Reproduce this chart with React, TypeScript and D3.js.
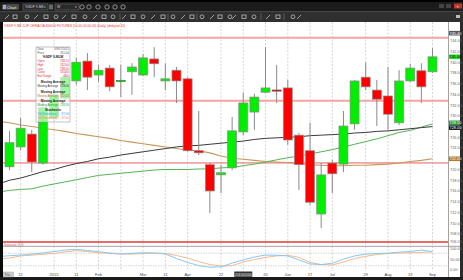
import React from "react";
import * as d3 from "d3";

// ---- data (weekly candles) ----
const opens = [720.5, 724.2, 726.6, 721.2, 729.6, 733.3, 736.5, 740.2, 737.6, 738.9, 736.5, 738.2, 737.6, 740.6, 736.5, 738.5, 736.9, 723.5, 720.9, 719.0, 720.3, 727.0, 730.7, 734.4, 734.8, 735.2, 726.4, 723.5, 711.7, 721.2, 721.0, 728.5, 737.2, 734.8, 733.7, 728.7, 736.5, 738.4, 738.2];
const highs = [727.2, 729.6, 727.4, 733.0, 734.4, 738.5, 740.8, 741.7, 739.5, 739.5, 739.5, 739.8, 741.5, 742.8, 739.8, 739.1, 737.2, 730.9, 721.2, 720.9, 729.8, 734.3, 734.1, 742.8, 739.5, 736.7, 726.8, 728.7, 721.2, 721.8, 730.9, 736.7, 740.0, 736.7, 739.1, 738.5, 739.7, 739.8, 742.6];
const lows = [719.9, 723.6, 719.5, 720.9, 728.9, 733.0, 735.8, 734.8, 736.3, 734.6, 733.5, 733.9, 737.4, 737.2, 734.8, 732.4, 723.3, 722.7, 711.9, 715.6, 719.9, 726.4, 727.4, 734.3, 732.4, 724.6, 716.2, 713.4, 709.1, 715.6, 719.5, 727.4, 734.8, 728.1, 727.4, 728.3, 736.3, 732.4, 738.0];
const closes = [725.0, 727.7, 721.4, 731.5, 733.9, 737.2, 740.0, 737.2, 738.5, 735.4, 736.6, 739.1, 740.8, 739.7, 736.9, 736.5, 723.5, 723.1, 716.0, 719.4, 727.2, 732.4, 733.5, 735.2, 734.7, 725.5, 720.9, 713.9, 719.0, 719.2, 728.1, 736.5, 735.4, 733.1, 730.3, 736.5, 738.9, 735.4, 741.0];

// moving averages / stochastic start one bar before the first visible candle
const maBlack = [717.3, 718.0, 718.4, 719.0, 719.6, 720.0, 720.6, 721.1, 721.5, 722.0, 722.3, 722.7, 723.0, 723.3, 723.6, 723.9, 724.2, 724.4, 724.5, 724.7, 724.9, 725.1, 725.3, 725.6, 725.8, 725.9, 726.0, 726.1, 726.3, 726.4, 726.5, 726.6, 726.8, 726.9, 727.1, 727.2, 727.4, 727.6, 727.8, 728.0];
const maGreen = [715.8, 716.1, 716.3, 716.4, 716.9, 717.3, 717.7, 718.1, 718.5, 718.9, 719.1, 719.3, 719.5, 719.7, 719.9, 720.0, 720.0, 720.0, 720.1, 720.1, 720.3, 720.4, 720.7, 721.0, 721.4, 721.8, 722.2, 722.5, 722.9, 723.3, 723.7, 724.2, 724.7, 725.2, 725.7, 726.3, 726.9, 727.3, 727.9, 728.5];
const maTan = [729.0, 728.7, 728.3, 728.0, 727.7, 727.4, 727.1, 726.7, 726.4, 726.1, 725.8, 725.4, 725.1, 724.8, 724.5, 724.2, 723.9, 723.6, 723.5, 723.1, 722.5, 722.1, 721.9, 721.7, 721.5, 721.4, 721.3, 721.1, 720.9, 720.8, 720.7, 720.7, 720.8, 720.8, 720.9, 721.0, 721.2, 721.5, 721.7, 722.0];
const stochK = [64, 68, 71, 76, 81, 88, 95, 98, 93, 87, 81, 76, 79, 82, 81, 76, 55, 36, 21, 13, 15, 33, 48, 62, 71, 70, 67, 48, 29, 26, 32, 52, 67, 76, 78, 80, 85, 88, 95, 87];
const stochD = [52, 57, 67, 71, 75, 79, 86, 92, 88, 82, 79, 76, 76, 78, 80, 79, 69, 57, 40, 26, 19, 21, 38, 50, 60, 67, 70, 60, 36, 26, 24, 38, 55, 65, 74, 79, 81, 82, 83, 87];

const priceTicks = d3.range(744, 707, -2);
const stochTicks = [100, 50, 0];
const stochLevels = [80, 20];
const gridIdx = [1, 4, 6, 8, 10, 12, 14, 16, 19, 21, 23, 25, 27, 29, 32, 34, 36, 38];
const tickIdx = [1, 4, 6, 8, 12, 14, 16, 19, 23, 25, 27, 29, 32, 34, 36, 38];
const tickLabels = ["12", "2015", "11", "Feb", "Mar", "11", "Apr", "22", "20", "Jun", "17", "Jul", "29", "Aug", "19", "Sep"];
const cursorIdx = 21;
const cursorLabel = "2015/05/04";
const pinkLevels = [744.56, 732.83];
const redLevels = [721.22];
const bottomRedLevel = 706.5;
const topMarker = 745.4;

const FONT = "'Liberation Sans', Arial, sans-serif";

export default function App() {
  const x = d3.scaleLinear().domain([0, 38]).range([9.5, 432.5]);
  const y = d3.scaleLinear().domain([744, 708]).range([40.7, 233.9]);
  const ys = d3.scaleLinear().domain([0, 100]).range([270, 249]);
  const maIdx = d3.range(-1, 39);
  const mkLine = (vals: number[], sc: (v: number) => number) =>
    d3.line<number>().x((_, i) => x(maIdx[i])).y((v) => sc(v))(vals) || "";

  const plotL = 3, plotR = 448, plotT = 22, plotB = 242;
  const bw = 9;
  const fmt = d3.format(".2f");

  const toolIcons1 = [7, 15, 27, 36, 46, 56, 64, 74, 85, 95, 104, 113, 124, 133, 143, 153, 163, 173, 183, 192, 202, 212, 220, 230, 234, 244, 254, 268, 278, 293, 299];
  const toolSeps = [120, 168, 197, 261, 284];
  const topIcons = [82, 89, 98, 107, 115, 123];

  const lastClose = closes[closes.length - 1];
  const boxesRaw = [
    { v: topMarker, fill: "#5a5a5a", text: "#fff" },
    { v: lastClose, fill: "#22e022", text: "#000" },
    { v: maGreen[maGreen.length - 1], fill: "#1f9a2a", text: "#fff" },
    { v: maBlack[maBlack.length - 1], fill: "#111", text: "#fff" },
    { v: maTan[maTan.length - 1], fill: "#b47a22", text: "#fff" },
  ];
  // resolve label collisions by pushing boxes apart
  const sorted = boxesRaw.map((b) => ({ ...b, cy: y(b.v) })).sort((a, b) => a.cy - b.cy);
  for (let k = 1; k < sorted.length; k++) {
    const gap = sorted[k].cy - sorted[k - 1].cy;
    if (gap < 4.8) {
      const d = (4.8 - gap) / 2;
      sorted[k - 1].cy -= d;
      sorted[k].cy += d;
    }
  }
  const boxes = sorted;
  const visibleTicks = priceTicks.filter((p) => boxes.every((b) => Math.abs(y(p) - b.cy) > 4.6));

  const infoRows: { l: string; r: string; c: string; bold?: boolean }[] = [
    { l: "Date", r: "09/07/2015", c: "#555" },
    { l: "Price", r: "741.00", c: "#555" },
    { l: "%SDF 9-MLW", r: "", c: "#222", bold: true },
    { l: "Open", r: fmt(opens[38]), c: "#e03030" },
    { l: "High", r: fmt(highs[38]), c: "#e03030" },
    { l: "Low", r: fmt(lows[38]), c: "#e03030" },
    { l: "Close", r: fmt(closes[38]), c: "#e03030" },
    { l: "Bar Range", r: fmt(highs[38] - lows[38]), c: "#e03030" },
    { l: "Moving Average", r: "", c: "#222", bold: true },
    { l: "Moving Average", r: fmt(maBlack[39]), c: "#333" },
    { l: "Moving Average", r: "", c: "#222", bold: true },
    { l: "Moving Average", r: fmt(maTan[39]), c: "#b47a22" },
    { l: "Moving Average", r: "", c: "#222", bold: true },
    { l: "Moving Average", r: fmt(maGreen[39]), c: "#2a9a2a" },
    { l: "Stochastic", r: "", c: "#222", bold: true },
    { l: "%K(Smoothed)", r: fmt(stochK[39]), c: "#3a9ee0" },
    { l: "%D(Smoothed)", r: fmt(stochD[39]), c: "#f08a40" },
  ];
  const infoY = [50, 53.5, 58, 62.3, 66, 69.6, 73.2, 77, 83, 87, 92.7, 97, 102, 106, 111, 115, 119];

  return (
    <svg width={463} height={280} style={{ position: "fixed", left: 0, top: 0, fontFamily: FONT }}>
      <defs>
        <clipPath id="plot">
          <rect x={plotL} y={plotT} width={plotR - plotL} height={plotB - plotT} />
        </clipPath>
        <clipPath id="stoch">
          <rect x={plotL} y={247} width={plotR - plotL} height={24} />
        </clipPath>
      </defs>
      <rect x={0} y={0} width={463} height={280} fill="#fff" />

      {/* top title bar */}
      <rect x={0} y={0} width={463} height={11} fill="#1c1c1c" />
      <rect x={0} y={0} width={463} height={2} fill="#000" />
      <rect x={2} y={4} width={17} height={6} rx={1} fill="#4a4a4a" />
      <rect x={3} y={5} width={3} height={4} fill="#9ad" />
      <text x={7} y={8.6} fontSize={3.8} fill="#eee">Chart</text>
      <rect x={23} y={4} width={25} height={6} fill="#2a2a2a" stroke="#777" strokeWidth={0.5} />
      <text x={25} y={8.4} fontSize={3.4} fill="#ddd">%SDF 9-M8</text>
      <text x={44} y={8.4} fontSize={3.4} fill="#ddd">▾</text>
      <rect x={49} y={4.5} width={4} height={5} fill="#666" />
      <rect x={55} y={4} width={24} height={6} fill="#2a2a2a" stroke="#777" strokeWidth={0.5} />
      <text x={57} y={8.4} fontSize={3.4} fill="#ddd">W</text>
      <text x={75} y={8.4} fontSize={3.4} fill="#ddd">▾</text>
      {topIcons.map((ix, i) => (
        <circle key={i} cx={ix} cy={7} r={2.2} fill="none" stroke="#bbb" strokeWidth={0.7} />
      ))}
      <rect x={439} y={4} width={5} height={4} fill="#444" />
      <rect x={446} y={4} width={5} height={4} fill="#444" />
      <rect x={454} y={3.5} width={8} height={5} fill="#c0392b" />
      <text x={456.5} y={7.6} fontSize={4} fill="#fff">×</text>

      {/* toolbar */}
      <rect x={0} y={11} width={463} height={11} fill="#2f2f2f" />
      <line x1={0} y1={11.5} x2={463} y2={11.5} stroke="#555" strokeWidth={0.6} />
      {toolIcons1.map((ix, i) => (
        <g key={i} stroke="#cfcfcf" strokeWidth={0.7} fill="none">
          {i % 3 === 0 ? (
            <line x1={ix - 2} y1={19} x2={ix + 2} y2={15} />
          ) : i % 3 === 1 ? (
            <rect x={ix - 2} y={15} width={4} height={3.5} />
          ) : (
            <circle cx={ix} cy={16.8} r={1.9} />
          )}
        </g>
      ))}
      {toolSeps.map((sx, i) => (
        <line key={i} x1={sx} y1={13.5} x2={sx} y2={20} stroke="#888" strokeWidth={0.5} />
      ))}
      <rect x={456} y={15} width={4} height={3} fill="#bbb" />

      {/* borders */}
      <rect x={0} y={22} width={3} height={258} fill="#0a0a0a" />
      <rect x={460} y={22} width={3} height={258} fill="#2a2a2a" />
      <rect x={0} y={277} width={463} height={3} fill="#1a1a1a" />

      {/* vertical grid */}
      {gridIdx.map((gi) => (
        <line key={gi} x1={x(gi)} x2={x(gi)} y1={plotT} y2={271} stroke="#b8b8b8" strokeWidth={0.6} strokeDasharray="2,1.5" />
      ))}

      {/* header text */}
      <text x={4} y={27.3} fontSize={3.6} fill="#e53935" textLength={121} lengthAdjust="spacingAndGlyphs">
        %SDF 9-M8 .DJF CHINA DA 400000 FUTURES (10.00.00.00.00) (Daily) (delayed 15)
      </text>

      {/* horizontal levels */}
      {pinkLevels.map((p, i) => (
        <line key={i} x1={plotL} x2={plotR} y1={y(p)} y2={y(p)} stroke="#f5a3a3" strokeWidth={2} />
      ))}
      {redLevels.map((p, i) => (
        <line key={i} x1={plotL} x2={plotR} y1={y(p)} y2={y(p)} stroke="#e56060" strokeWidth={1} />
      ))}

      <g clipPath="url(#plot)">
        {/* moving averages */}
        <path d={mkLine(maTan, y)} fill="none" stroke="#c9965a" strokeWidth={1.1} />
        <path d={mkLine(maGreen, y)} fill="none" stroke="#52b552" strokeWidth={1} />
        <path d={mkLine(maBlack, y)} fill="none" stroke="#3a3a3a" strokeWidth={1} />

        {/* candles */}
        {opens.map((o, i) => {
          const c = closes[i];
          const up = c >= o;
          const top = y(Math.max(o, c));
          const bot = y(Math.min(o, c));
          const h = Math.max(bot - top, 1);
          return (
            <g key={i}>
              <line x1={x(i)} x2={x(i)} y1={y(highs[i])} y2={y(lows[i])} stroke="#8a8a8a" strokeWidth={1} />
              <rect
                x={x(i) - bw / 2}
                y={top}
                width={bw}
                height={h}
                fill={up ? "#00ee00" : "#ff0000"}
                stroke={h <= 1.5 ? (up ? "#2b8a2b" : "#8a2b2b") : "#8c8c8c"}
                strokeWidth={0.7}
              />
            </g>
          );
        })}
      </g>

      {/* info box */}
      <rect x={36} y={47} width={34} height={75} fill="#ffffff" fillOpacity={0.62} stroke="#9a9a9a" strokeWidth={0.6} />
      {infoRows.map((r, i) =>
        r.bold ? (
          <text key={i} x={53} y={infoY[i]} fontSize={3.2} fontWeight="bold" fill={r.c} textAnchor="middle">
            {r.l}
          </text>
        ) : (
          <g key={i}>
            <text x={37.5} y={infoY[i]} fontSize={2.9} fill={r.c}>{r.l}</text>
            <text x={68.8} y={infoY[i]} fontSize={2.9} fill={r.c} textAnchor="end">{r.r}</text>
          </g>
        )
      )}

      {/* bottom red line + stochastic label */}
      <line x1={plotL} x2={plotR} y1={y(bottomRedLevel)} y2={y(bottomRedLevel)} stroke="#e53935" strokeWidth={1.4} />
      <text x={4} y={245.6} fontSize={2.8} fill="#c05050">Stochastic (9,3)</text>
      <line x1={plotL} x2={460} y1={246.3} y2={246.3} stroke="#8a8a8a" strokeWidth={0.8} />

      {/* stochastic pane */}
      {stochLevels.map((lv) => (
        <line key={lv} x1={plotL} x2={plotR} y1={ys(lv)} y2={ys(lv)} stroke="#aaa" strokeWidth={0.5} strokeDasharray="1.5,1" />
      ))}
      <g clipPath="url(#stoch)">
        <path d={mkLine(stochD, ys)} fill="none" stroke="#f7b98c" strokeWidth={1} />
        <path d={mkLine(stochK, ys)} fill="none" stroke="#86c9f2" strokeWidth={1} />
      </g>

      {/* right axis */}
      <line x1={448.5} x2={448.5} y1={plotT} y2={277} stroke="#8a8a8a" strokeWidth={0.8} />
      {visibleTicks.map((p) => (
        <text key={p} x={450} y={y(p) + 1.4} fontSize={3.9} fill="#666">{fmt(p)}</text>
      ))}
      <text x={450} y={y(bottomRedLevel) + 1.4} fontSize={3.9} fill="#666">{fmt(bottomRedLevel)}</text>
      {stochTicks.map((s) => (
        <text key={s} x={450} y={ys(s) + 1.4} fontSize={3.9} fill="#666">{fmt(s)}</text>
      ))}
      {boxes.map((b, i) => (
        <g key={i}>
          <rect x={449} y={b.cy - 2.3} width={11} height={4.6} fill={b.fill} />
          <text x={449.5} y={b.cy + 1.4} fontSize={3.9} fill={b.text}>{fmt(b.v)}</text>
        </g>
      ))}

      {/* x axis */}
      {tickIdx.map((ti, i) => (
        <text key={ti} x={x(ti)} y={275.6} fontSize={4} fill="#444" textAnchor="middle">{tickLabels[i]}</text>
      ))}
      <rect x={x(cursorIdx) - 9} y={271.5} width={18} height={5.3} fill="#333" />
      <text x={x(cursorIdx)} y={275.6} fontSize={3.4} fill="#fff" textAnchor="middle">{cursorLabel}</text>
      <rect x={3.5} y={272} width={10} height={5} fill="#ccc" stroke="#999" strokeWidth={0.4} />
      <text x={4.5} y={275.8} fontSize={3.2} fill="#555">Thu</text>
    </svg>
  );
}
